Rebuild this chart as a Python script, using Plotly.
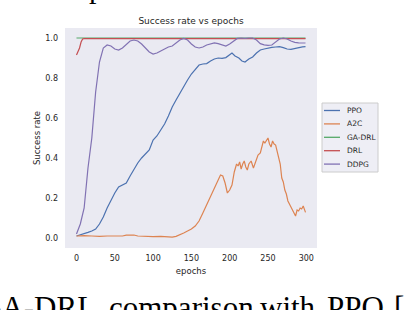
import plotly.graph_objects as go

# ---------------- data ----------------
ppo_epochs = [0, 5, 10, 15, 20, 25, 30, 35, 40, 45, 50, 55, 60, 65, 70, 75, 80, 85, 90, 95,
              100, 105, 110, 115, 120, 125, 130, 135, 140, 145, 150, 155, 160, 165, 170, 175,
              180, 185, 190, 195, 200, 203, 207, 212, 216, 220, 225, 230, 235, 240, 245, 250,
              255, 260, 265, 270, 275, 280, 285, 290, 295, 299]
ppo_rate = [0.01, 0.015, 0.02, 0.028, 0.035, 0.045, 0.07, 0.105, 0.15, 0.19, 0.225, 0.255, 0.265,
            0.275, 0.31, 0.345, 0.375, 0.40, 0.42, 0.44, 0.49, 0.51, 0.54, 0.57, 0.61, 0.655, 0.69,
            0.725, 0.755, 0.79, 0.82, 0.845, 0.865, 0.87, 0.872, 0.885, 0.895, 0.90, 0.898, 0.902,
            0.915, 0.925, 0.91, 0.90, 0.885, 0.88, 0.895, 0.905, 0.925, 0.94, 0.945, 0.95, 0.953,
            0.955, 0.957, 0.952, 0.945, 0.943, 0.948, 0.952, 0.956, 0.957]

a2c_epochs = [0, 10, 20, 30, 40, 50, 60, 65, 70, 75, 80, 90, 100, 110, 120, 125, 130, 135, 140,
              145, 150, 155, 160, 165, 170, 175, 180, 185, 188, 191, 194, 197, 200, 203, 206, 209,
              211, 213, 215, 217, 219, 221, 223, 225, 228, 231, 233, 235, 237, 240, 242, 244, 246,
              248, 250, 252, 254, 256, 258, 260, 262, 264, 266, 268, 270, 272, 274, 276, 278, 280,
              282, 284, 286, 288, 290, 292, 294, 296, 298, 299]
a2c_rate = [0.01, 0.012, 0.01, 0.008, 0.01, 0.009, 0.01, 0.014, 0.016, 0.015, 0.01, 0.008, 0.007,
            0.008, 0.005, 0.004, 0.008, 0.015, 0.025, 0.035, 0.045, 0.06, 0.085, 0.125, 0.165,
            0.205, 0.245, 0.29, 0.315, 0.31, 0.275, 0.225, 0.24, 0.265, 0.33, 0.37, 0.36, 0.38,
            0.345, 0.37, 0.385, 0.355, 0.34, 0.37, 0.385, 0.35, 0.37, 0.40, 0.415, 0.425, 0.46,
            0.485, 0.475, 0.49, 0.50, 0.47, 0.455, 0.485, 0.47, 0.465, 0.435, 0.40, 0.37, 0.30,
            0.28, 0.24, 0.22, 0.185, 0.165, 0.155, 0.14, 0.12, 0.11, 0.14, 0.135, 0.15, 0.145,
            0.16, 0.13, 0.128]

gadrl_epochs = [0, 50, 100, 150, 200, 250, 299]
gadrl_rate = [1.0, 1.0, 1.0, 1.0, 1.0, 1.0, 1.0]

drl_epochs = [0, 2, 4, 6, 8, 10, 50, 100, 150, 200, 250, 299]
drl_rate = [0.915, 0.93, 0.95, 0.98, 0.995, 0.997, 0.997, 0.997, 0.997, 0.997, 0.997, 0.997]

ddpg_epochs = [0, 5, 10, 15, 20, 25, 30, 35, 40, 45, 50, 55, 60, 65, 70, 75, 80, 85, 90, 95,
               100, 105, 110, 115, 120, 125, 130, 135, 140, 145, 150, 155, 160, 165, 170, 175,
               180, 185, 190, 195, 200, 205, 210, 215, 220, 225, 230, 235, 240, 245, 250, 255,
               260, 265, 270, 275, 280, 285, 290, 295, 299]
ddpg_rate = [0.02, 0.07, 0.15, 0.35, 0.50, 0.73, 0.88, 0.95, 0.965, 0.96, 0.945, 0.94, 0.95, 0.97,
             0.985, 0.99, 0.985, 0.97, 0.95, 0.93, 0.92, 0.925, 0.935, 0.945, 0.955, 0.96, 0.975,
             0.99, 0.998, 0.99, 0.97, 0.955, 0.95, 0.955, 0.965, 0.972, 0.976, 0.972, 0.965, 0.96,
             0.97, 0.985, 0.998, 1.0, 0.998, 1.0, 1.0, 0.99, 0.972, 0.966, 0.963, 0.965, 0.98,
             0.995, 1.0, 0.995, 0.985, 0.978, 0.976, 0.975, 0.975]

series_names = ["PPO", "A2C", "GA-DRL", "DRL", "DDPG"]
series_x = [ppo_epochs, a2c_epochs, gadrl_epochs, drl_epochs, ddpg_epochs]
series_y = [ppo_rate, a2c_rate, gadrl_rate, drl_rate, ddpg_rate]
series_colors = ["#4c72b0", "#dd8452", "#55a868", "#c44e52", "#8172b3"]

x_ticks = [0, 50, 100, 150, 200, 250, 300]
y_ticks = [0.0, 0.2, 0.4, 0.6, 0.8, 1.0]
y_tick_labels = ["0.0", "0.2", "0.4", "0.6", "0.8", "1.0"]

# caption words of the surrounding page (cut off by the crop)
caption_words = ["GA-DRL", "comparison", "with", "PPO", "[17]"]
caption_word_px = [-23, 107, 258, 325, 392]

# ---------------- layout geometry (pixels) ----------------
W, H = 404, 310
L, R, T, B = 65, 87, 28, 62
PW, PH = W - L - R, H - T - B


def px_x(p):
    return (p - L) / PW


def px_y(p):
    return (H - B - p) / PH


# ---------------- figure ----------------
fig = go.Figure()
for name, xs, ys, col in zip(series_names, series_x, series_y, series_colors):
    fig.add_trace(go.Scatter(x=xs, y=ys, mode="lines", name=name, showlegend=False,
                             hoverinfo="skip", line=dict(color=col, width=1.2)))

font_main = "DejaVu Sans"
fig.update_layout(
    width=W, height=H,
    margin=dict(l=L, r=R, t=T, b=B, autoexpand=False),
    paper_bgcolor="white",
    plot_bgcolor="#eaeaf2",
    font=dict(family=font_main, size=8, color="#262626"),
    title=dict(text="Success rate vs epochs", x=(L + PW / 2) / W, xanchor="center",
               y=1 - 21 / H, yanchor="middle", font=dict(size=9, color="#262626")),
    showlegend=False,
)
fig.update_xaxes(range=[-15, 314], tickvals=x_ticks, showgrid=False, zeroline=False,
                 showline=False, ticks="", ticklabelstandoff=4, automargin=False,
                 title=dict(text="epochs", standoff=6, font=dict(size=8.5)))
fig.update_yaxes(range=[-0.05, 1.05], tickvals=y_ticks, ticktext=y_tick_labels,
                 showgrid=False, zeroline=False, showline=False, ticks="", ticklabelstandoff=6,
                 automargin=False,
                 title=dict(text="Success rate", standoff=3, font=dict(size=8.5)))

# ---------------- legend (matplotlib-style box) ----------------
leg_x0, leg_x1, leg_y0, leg_y1 = 322, 378, 103, 172
fig.add_shape(type="rect", xref="paper", yref="paper",
              x0=px_x(leg_x0), x1=px_x(leg_x1), y0=px_y(leg_y1), y1=px_y(leg_y0),
              fillcolor="#eeeef5", line=dict(color="#cccccc", width=1), layer="above")
row0, row_step = 110.5, 13.4
for i, (name, col) in enumerate(zip(series_names, series_colors)):
    ry = row0 + i * row_step
    fig.add_shape(type="line", xref="paper", yref="paper",
                  x0=px_x(324), x1=px_x(340), y0=px_y(ry), y1=px_y(ry),
                  line=dict(color=col, width=1.3), layer="above")
    fig.add_annotation(text=name, xref="paper", yref="paper", x=px_x(345), y=px_y(ry),
                       xanchor="left", yanchor="middle", showarrow=False,
                       font=dict(size=7.5, color="#262626"))

# surrounding page text (caption of the paper figure, cut off by the crop)
for word, wx in zip(caption_words, caption_word_px):
    fig.add_annotation(text=word, xref="paper", yref="paper",
                       x=px_x(wx), y=px_y(288), xanchor="left", yanchor="top",
                       showarrow=False,
                       font=dict(family="Liberation Serif", size=31, color="black"))
fig.add_annotation(text="p", xref="paper", yref="paper",
                   x=px_x(87), y=px_y(6), xanchor="left", yanchor="bottom",
                   showarrow=False, font=dict(family="Liberation Serif", size=30, color="black"))

fig.write_html("out.html", config={"displayModeBar": False},
               post_script="document.body.style.margin='0px';"
                           "document.body.style.overflow='hidden';")
